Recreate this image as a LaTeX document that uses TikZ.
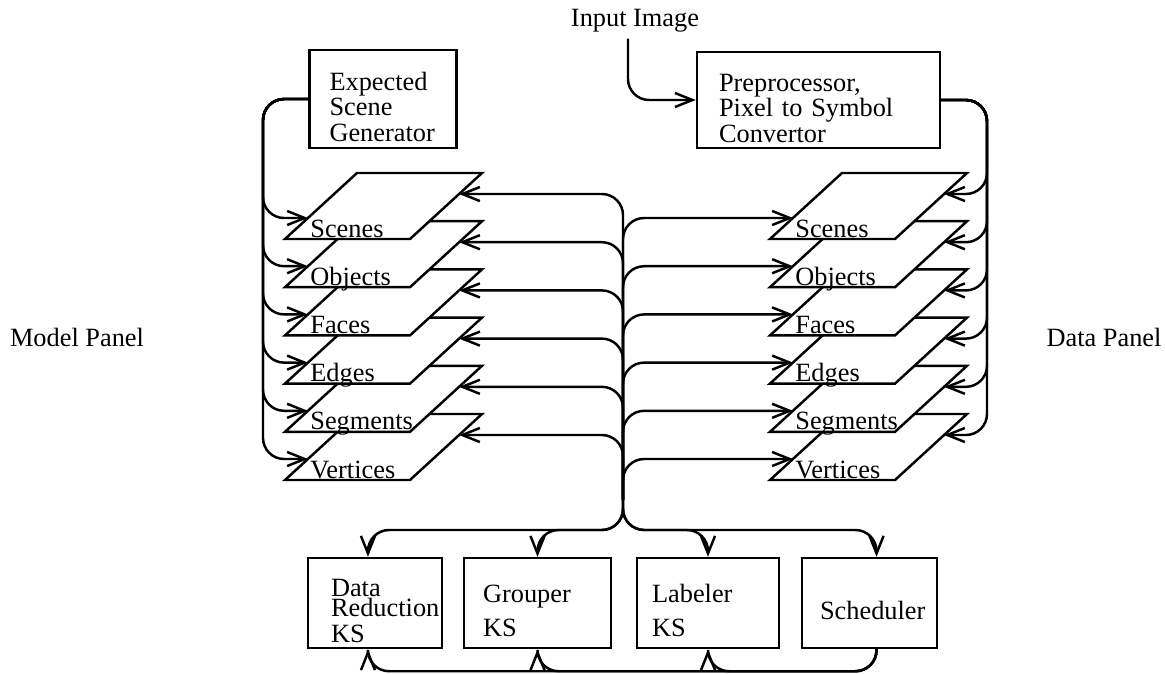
\documentclass[tikz,border=0pt]{standalone}
\usepackage{fontspec}
\setmainfont{Liberation Serif}
\usetikzlibrary{arrows.meta,calc}

\begin{document}
\begin{tikzpicture}[x=0.02cm,y=-0.02cm,
	font=\fontsize{15}{14.5}\selectfont,
	box/.style={draw,line width=1.4pt,align=left,minimum height=1.8cm,inner ysep=0pt,
		execute at begin node={\rule{0pt}{19pt}}},
	layer/.style={draw,fill=white,line width=1.4pt},
	link/.style={line width=1.4pt,rounded corners=12pt,-{Straight Barb[length=10pt,width=8pt]}}]
	\useasboundingbox (0,0) rectangle (1165,673);
	% boxes on top
	\node (input) at (635,21) {Input Image};
	\node[box,text width=2.14cm,inner xsep=0.4cm,minimum height=1.96cm] (exp) at (383,99) {Expected\\Scene\\Generator};
	\node[box,text width=3.98cm,inner xsep=0.44cm,minimum height=1.92cm] (prep) at (818.5,100) {Preprocessor,\\Pixel to Symbol\\Convertor};
	\node (mpanel) at (77,337) {Model Panel};
	\node (dpanel) at (1104,337) {Data Panel};
	% the two stacks of layers, drawn bottom up
	\foreach \lay [count=\i] in {Vertices,Segments,Edges,Faces,Objects,Scenes} {
		\pgfmathsetmacro{\b}{480-48.2*(\i-1)}
		\foreach \side/\x in {model/285,data/770} {
			\draw[layer] (\x,\b) -- ++(125,0) -- ++(72,-66) -- ++(-125,0) -- cycle;
			\node[anchor=base west,inner sep=0pt] (\side-\lay) at (\x+25,\b-2) {\lay};
			\coordinate (\side-\lay-w) at (\x+23,\b-21);
			\coordinate (\side-\lay-e) at (\x+174,\b-45);
		}
	}
	% knowledge sources
	\node[box,text width=1.76cm,inner xsep=0.46cm] (kred) at (375,603) {Data\\[-3pt]Reduction\\KS};
	\node[box,text width=2.18cm,inner xsep=0.38cm] (kgrp) at (537.5,603) {Grouper\\[5pt]KS};
	\node[box,text width=2.24cm,inner xsep=0.3cm] (klab) at (708,603) {Labeler\\[5pt]KS};
	\node[box,text width=1.98cm,inner xsep=0.36cm] (ksch) at (869.5,603) {Scheduler};
	% connectors
	\coordinate (lbus) at (263,99);
	\coordinate (rbus) at (987,100);
	\coordinate (bus) at (623,500);
	\coordinate (split) at (623,530);
	\draw[link] ([xshift=-4pt]input.south) |- (prep.west);
	\foreach \lay in {Scenes,Objects,Faces,Edges,Segments,Vertices} {
		\draw[link] (exp.west) -- (lbus) |- (model-\lay-w);
		\draw[link] (prep.east) -- (rbus) |- (data-\lay-e);
		\draw[link] (bus) |- (model-\lay-e);
		\draw[link] (bus) |- (data-\lay-w);
	}
	\foreach \k/\s in {kred/-4pt,kgrp/0pt,klab/0pt,ksch/4pt}
		\draw[link] (bus) -- (split) -| ([xshift=\s]\k.north);
	\foreach \k/\s in {kred/-4pt,kgrp/0pt,klab/0pt}
		\draw[link] ([xshift=4pt]ksch.south) -- ++(0,22) -| ([xshift=\s]\k.south);
\end{tikzpicture}
\end{document}
